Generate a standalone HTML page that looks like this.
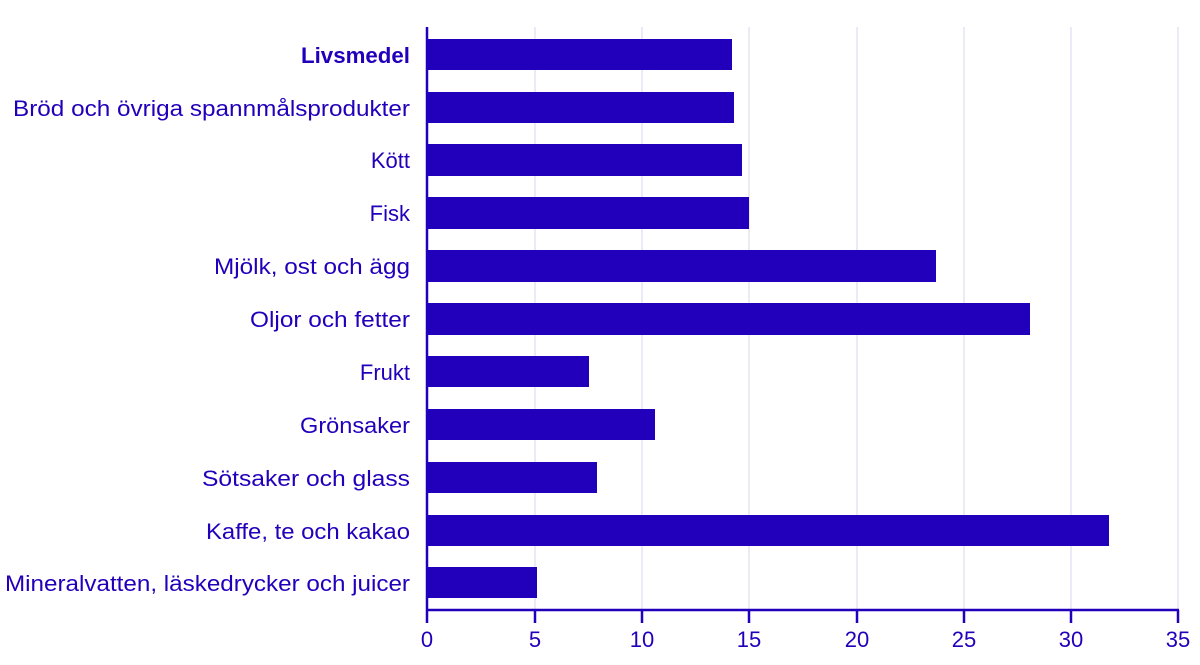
<!DOCTYPE html>
<html><head><meta charset="utf-8"><style>
body{margin:0;background:#fff}
svg text{font-family:"Liberation Sans",sans-serif;fill:#2200bb;font-size:22px}
</style></head><body>
<svg width="1200" height="660" viewBox="0 0 1200 660" xmlns="http://www.w3.org/2000/svg">
<g stroke="#d8d4ee" stroke-width="1">
<line x1="535" y1="27" x2="535" y2="609"/><line x1="642" y1="27" x2="642" y2="609"/><line x1="749" y1="27" x2="749" y2="609"/><line x1="857" y1="27" x2="857" y2="609"/><line x1="964" y1="27" x2="964" y2="609"/><line x1="1071" y1="27" x2="1071" y2="609"/><line x1="1178" y1="27" x2="1178" y2="609"/>
</g>
<g fill="#2200bb">
<rect x="427" y="39" width="305" height="31"/>
<rect x="427" y="92" width="307" height="31"/>
<rect x="427" y="144" width="315" height="32"/>
<rect x="427" y="197" width="322" height="32"/>
<rect x="427" y="250" width="509" height="32"/>
<rect x="427" y="303" width="603" height="32"/>
<rect x="427" y="356" width="162" height="31"/>
<rect x="427" y="409" width="228" height="31"/>
<rect x="427" y="462" width="170" height="31"/>
<rect x="427" y="515" width="682" height="31"/>
<rect x="427" y="567" width="110" height="31"/>
</g>
<g stroke="#2200bb" stroke-width="2.5">
<line x1="427" y1="27" x2="427" y2="623"/>
<line x1="427" y1="610" x2="1179" y2="610"/>
<line x1="535" y1="610" x2="535" y2="623"/><line x1="642" y1="610" x2="642" y2="623"/><line x1="749" y1="610" x2="749" y2="623"/><line x1="857" y1="610" x2="857" y2="623"/><line x1="964" y1="610" x2="964" y2="623"/><line x1="1071" y1="610" x2="1071" y2="623"/><line x1="1178" y1="610" x2="1178" y2="623"/>
</g>
<g text-anchor="end">
<text x="410" y="63" font-weight="bold" textLength="109" lengthAdjust="spacingAndGlyphs">Livsmedel</text>
<text x="410" y="116" textLength="397" lengthAdjust="spacingAndGlyphs">Bröd och övriga spannmålsprodukter</text>
<text x="410" y="168">Kött</text>
<text x="410" y="221">Fisk</text>
<text x="410" y="274" textLength="196" lengthAdjust="spacingAndGlyphs">Mjölk, ost och ägg</text>
<text x="410" y="327" textLength="160" lengthAdjust="spacingAndGlyphs">Oljor och fetter</text>
<text x="410" y="380">Frukt</text>
<text x="410" y="433" textLength="110" lengthAdjust="spacingAndGlyphs">Grönsaker</text>
<text x="410" y="486" textLength="208" lengthAdjust="spacingAndGlyphs">Sötsaker och glass</text>
<text x="410" y="539" textLength="204" lengthAdjust="spacingAndGlyphs">Kaffe, te och kakao</text>
<text x="410" y="591" textLength="405" lengthAdjust="spacingAndGlyphs">Mineralvatten, läskedrycker och juicer</text>
</g>
<g text-anchor="middle">
<text x="427" y="647">0</text><text x="535" y="647">5</text><text x="642" y="647">10</text><text x="749" y="647">15</text><text x="857" y="647">20</text><text x="964" y="647">25</text><text x="1071" y="647">30</text><text x="1178" y="647">35</text>
</g>
</svg>
</body></html>
